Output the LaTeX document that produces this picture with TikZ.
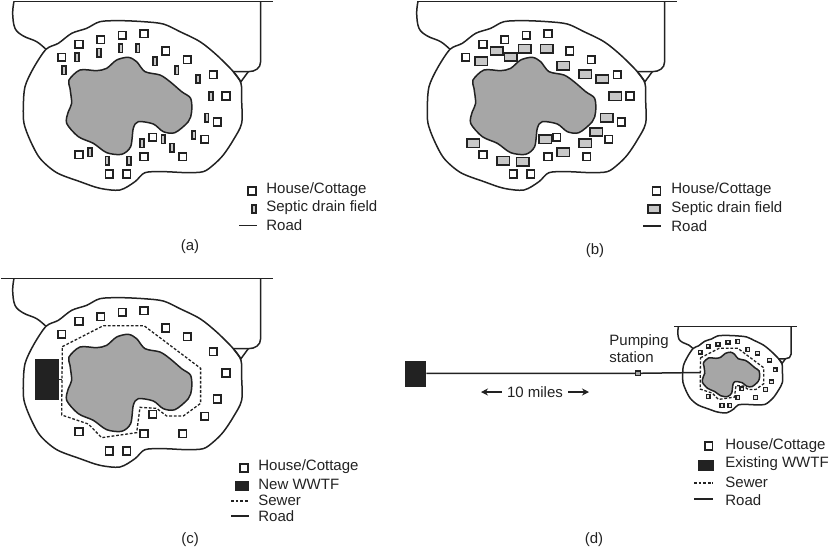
\documentclass[tikz,border=0pt]{standalone}
\usepackage{fontspec}
\setmainfont{Liberation Sans}
\usepackage{tikz}
\usetikzlibrary{calc,positioning,arrows.meta}
\definecolor{inkdark}{HTML}{222222}
\definecolor{lakegray}{HTML}{A6A6A6}
\definecolor{fieldgray}{HTML}{C8C8C8}
\tikzset{
  shore/.style={draw=inkdark,line width=1.5pt},
  lake/.style={draw=inkdark,fill=lakegray,line width=1.5pt},
  house/.style={draw=inkdark,fill=white,line width=1.6pt,inner sep=0pt,minimum size=7.8pt},
  smallhouse/.style={draw=inkdark,fill=white!70!lakegray,line width=1.4pt,inner sep=0pt,minimum size=3.8pt},
  narrowfield/.style={draw=inkdark,fill=fieldgray,line width=1.6pt,inner sep=0pt,minimum width=3.6pt,minimum height=8.2pt},
  widefield/.style={draw=inkdark,fill=fieldgray,line width=1.6pt,inner sep=0pt,minimum width=12.5pt,minimum height=8.2pt},
  wwtf/.style={draw=none,fill=inkdark,inner sep=0pt},
  sewer/.style={draw=inkdark,line width=1.3pt,dash pattern=on 2.8pt off 1.8pt},
  road/.style={draw=inkdark,line width=1.5pt},
  label/.style={inner sep=0pt,anchor=west,text=inkdark,font=\fontsize{15}{17}\selectfont},
  caption/.style={inner sep=0pt,text=inkdark,font=\fontsize{15}{17}\selectfont}
}
\newcommand{\basemap}[1]{
\draw[road] (#1,4) -- (820,4);
\draw[road] plot[smooth,tension=.6] coordinates {(42,4) (38,40) (45,85) (70,108) (110,125) (138,148)};
\draw[road] (782,4) -- (782,185) .. controls (782,205) and (765,215) .. (745,215) -- (700,215);
\draw[road] (700,215) -- (723,245) -- (745,215);
\draw[shore] plot[smooth cycle,tension=.5] coordinates {(138,148) (175,130) (215,100) (260,85) (300,65) (360,62) (430,65) (490,72) (540,95) (600,125) (650,165) (700,215) (723,250) (725,300) (725,370) (700,420) (670,465) (640,495) (610,515) (560,518) (490,515) (435,518) (405,545) (360,570) (300,565) (240,545) (170,518) (120,475) (90,420) (72,370) (70,320) (75,260) (100,205)};
\draw[lake] plot[smooth cycle,tension=.5] coordinates {(240,210) (290,212) (320,205) (350,180) (385,172) (410,185) (435,215) (480,225) (510,245) (545,275) (572,295) (575,335) (565,365) (525,398) (490,395) (460,372) (415,365) (400,385) (392,440) (365,463) (320,458) (280,430) (235,410) (200,370) (205,335) (215,310) (210,265) (207,240)};
}
\newcommand{\sewerloop}{
\draw[sewer] (187,209) -- (310,146) -- (432,146) -- (602,274) -- (602,379) -- (550,417) -- (500,417) -- (470,394) -- (420,391) -- (410,467) -- (305,482) -- (265,441) -- (185,414) -- cycle;
}
\newcommand{\houses}[2]{
\foreach \hx/\hy [count=\i] in {185/172,237/133,302/119,367/106,432/101,497/153,562/179,640/224,678/288,652/366,614/418,548/470,458/412,432/470,380/522,328/522,237/464}
  \node[#1] (#2h\i) at (\hx,\hy) {};
}
\begin{document}
\begin{tikzpicture}[x=1pt,y=-1pt,thick]
\useasboundingbox (0,0) rectangle (830,547);
% panel a
\begin{scope}[x=.3333pt,y=-.3333pt]
\basemap{42}
\houses{house}{a}
\foreach \fx/\fy [count=\i] in {192/211,231/172,297/158,362/145,413/145,465/184,530/211,594/237,633/289,620/353,581/405,516/443,490/418,426/430,387/482,322/482,270/457}
  \node[narrowfield] (afield\i) at (\fx,\fy) {};
\end{scope}
\node[house] (akey1) at (252,191) {};
\node[narrowfield] (akey2) at (254,209) {};
\coordinate (akey3) at (239,225.5);
\coordinate (akey4) at (257,225.5);
\draw[road] (akey3) -- (akey4);
\node[label] (atext1) at (266,190) {House/Cottage};
\node[label] (atext2) at (266,208) {Septic drain field};
\node[label] (atext3) at (266,225) {Road};
\node[caption] (acap) at (190,247) {(a)};
% panel b
\begin{scope}[xshift=404pt,x=.3333pt,y=-.3333pt]
\basemap{40}
\houses{house}{b}
\foreach \fx/\fy [count=\i] in {232/184,278/153,320/171,362/146,428/146,478/197,544/223,595/237,634/289,608/353,577/396,544/430,478/457,424/418,356/485,298/482,208/430}
  \node[widefield] (bfield\i) at (\fx,\fy) {};
\end{scope}
\node[house] (bkey1) at (656.5,191) {};
\node[widefield] (bkey2) at (654,209) {};
\coordinate (bkey3) at (643,226);
\coordinate (bkey4) at (661,226);
\draw[road] (bkey3) -- (bkey4);
\node[label] (btext1) at (671,190) {House/Cottage};
\node[label] (btext2) at (671,208.5) {Septic drain field};
\node[label] (btext3) at (671,226) {Road};
\node[caption] (bcap) at (595,251) {(b)};
% panel c
\begin{scope}[yshift=-277pt,x=.3333pt,y=-.3333pt]
\basemap{3}
\sewerloop
\houses{house}{c}
\end{scope}
\node[wwtf,minimum width=24pt,minimum height=41pt] (cplant) at (47,379.5) {};
\coordinate (csewer) at (62.3,379.5);
\draw[road] (cplant) -- (csewer);
\node[house] (ckey1) at (244,468) {};
\node[wwtf,minimum width=14pt,minimum height=10pt] (ckey2) at (242,486) {};
\coordinate (ckey3) at (231,501);
\coordinate (ckey4) at (249,501);
\coordinate (ckey5) at (231,516);
\coordinate (ckey6) at (249,516);
\draw[sewer] (ckey3) -- (ckey4);
\draw[road] (ckey5) -- (ckey6);
\node[label] (ctext1) at (258,467) {House/Cottage};
\node[label] (ctext2) at (258,484) {New WWTF};
\node[label] (ctext3) at (258,500) {Sewer};
\node[label] (ctext4) at (258,516) {Road};
\node[caption] (ccap) at (190,540) {(c)};
% panel d
\begin{scope}[xshift=672pt,yshift=-326pt,x=.1523pt,y=-.1523pt]
\basemap{13}
\sewerloop
\houses{smallhouse}{d}
\end{scope}
\node[wwtf,minimum width=21pt,minimum height=26pt] (dplant) at (415.5,373.5) {};
\node[draw=inkdark,fill=lakegray,line width=1.3pt,inner sep=0pt,minimum size=4.5pt] (dpump) at (638,373.3) {};
\coordinate (dsewer) at (700,372.5);
\draw[road] (dplant) -- (dpump) -- (dsewer);
\node[label,align=left] (dpumptext) at (609,349) {Pumping\\station};
\node[caption] (dmiles) at (535,392) {10 miles};
\coordinate (dleft) at (481,392);
\coordinate (dright) at (589,392);
\draw[road,-{Stealth[length=7pt,width=7pt]},line width=1.1pt] (dmiles.west)+(-5,0) -- (dleft);
\draw[road,-{Stealth[length=7pt,width=7pt]},line width=1.1pt] (dmiles.east)+(5,0) -- (dright);
\node[house] (dkey1) at (708.7,446) {};
\node[wwtf,minimum width=16pt,minimum height=11pt] (dkey2) at (706,465.5) {};
\coordinate (dkey3) at (694,483);
\coordinate (dkey4) at (713,483);
\coordinate (dkey5) at (694,499);
\coordinate (dkey6) at (713,499);
\draw[sewer] (dkey3) -- (dkey4);
\draw[road] (dkey5) -- (dkey6);
\node[label] (dtext1) at (725,446) {House/Cottage};
\node[label] (dtext2) at (725,464) {Existing WWTF};
\node[label] (dtext3) at (725,482) {Sewer};
\node[label] (dtext4) at (725,500) {Road};
\node[caption] (dcap) at (594,540) {(d)};
\end{tikzpicture}
\end{document}
